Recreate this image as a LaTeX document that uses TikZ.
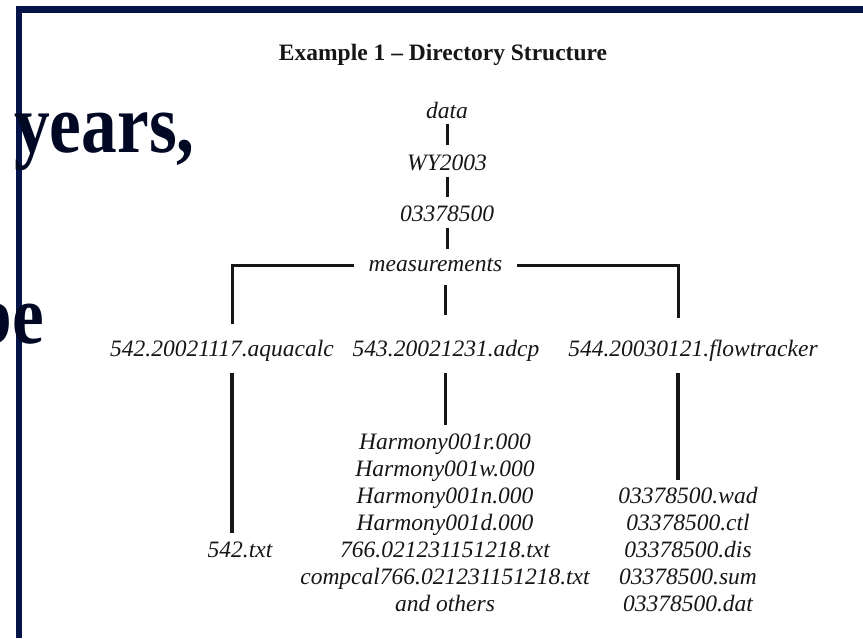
\documentclass[tikz,border=0pt]{standalone}
\usepackage{fontspec}
\setmainfont{Liberation Serif}
\newfontfamily\slidefont{Liberation Serif}[FakeStretch=0.85]
\usetikzlibrary{calc}
\usepackage{xcolor}
\definecolor{slidenavy}{RGB}{4,20,72}
\definecolor{slideink}{RGB}{0,8,36}
\definecolor{treeink}{RGB}{22,22,22}

\begin{document}
\begin{tikzpicture}[x=1pt,y=-1pt,
    item/.style={font=\fontsize{23.5}{27}\selectfont\itshape, text=treeink, inner sep=0pt, anchor=base},
    slidetext/.style={font=\slidefont\bfseries\fontsize{84}{90}\selectfont, text=slideink, inner sep=0pt},
    link/.style={draw=treeink, line width=3pt},
    longlink/.style={draw=treeink, line width=4pt}]

      \useasboundingbox (0,0) rectangle (863,638);

      % Slide frame
      \fill[slidenavy] (16,6) rectangle (863,12.5);
      \fill[slidenavy] (16,6) rectangle (22,638);

      % Slide text
      \node[slidetext, anchor=base west] (years) at (14,152) {years,};
      \node[slidetext, anchor=base east] (be) at (44,343) {be};

      % Title
      \node[font=\fontsize{23.5}{27}\selectfont\bfseries, text=treeink, inner sep=0pt, anchor=base] (title) at (443,60.7) {Example 1 -- Directory Structure};

      % Trunk
      \node[item] (data) at (447,118) {data};
      \node[item] (wy) at (447,170) {WY2003};
      \node[item] (stn) at (447,221.7) {03378500};
      \node[item] (meas) at (435.5,271.7) {measurements};
      \foreach \a/\b in {data/wy, wy/stn}
      {
        \draw[link, shorten <=6pt, shorten >=9pt] (\a.south) -- (\b.north);
      }
      \draw[link, shorten <=6pt, shorten >=9pt] (stn.south) -- (stn.south |- meas.north);

      % Branches
      \coordinate (lcol) at (232,0);
      \coordinate (mcol) at (445,0);
      \coordinate (rcol) at (678,0);
      \node[item] (aqua) at (222,356.7) {542.20021117.aquacalc};
      \node[item] (adcp) at (446,356.7) {543.20021231.adcp};
      \node[item] (flow) at (693,356.7) {544.20030121.flowtracker};
      \draw[link, shorten <=15pt, shorten >=16pt] (meas.west) -| (aqua.north -| lcol);
      \draw[link, shorten <=15pt, shorten >=22pt] (meas.east) -| (flow.north -| rcol);
      \draw[link, shorten <=13pt, shorten >=25pt] (meas.south -| mcol) -- (adcp.north -| mcol);

      % Files
      \node[item] (txt) at (240,557) {542.txt};
      \draw[longlink, shorten <=11pt, shorten >=8pt] (aqua.south -| lcol) -- (txt.north -| lcol);

      \foreach \f [count=\i] in {Harmony001r.000, Harmony001w.000, Harmony001n.000, Harmony001d.000, 766.021231151218.txt, compcal766.021231151218.txt, and others}
      {
        \node[item] (h\i) at (445,{449+27*(\i-1)}) {\f};
      }
      \draw[link, shorten <=11pt, shorten >=8pt] (adcp.south -| mcol) -- (h1.north -| mcol);

      \foreach \f [count=\i] in {wad, ctl, dis, sum, dat}
      {
        \node[item] (w\i) at (688,{503+27*(\i-1)}) {03378500.\f};
      }
      \draw[longlink, shorten <=11pt, shorten >=7pt] (flow.south -| rcol) -- (w1.north -| rcol);
  \end{tikzpicture}
\end{document}
